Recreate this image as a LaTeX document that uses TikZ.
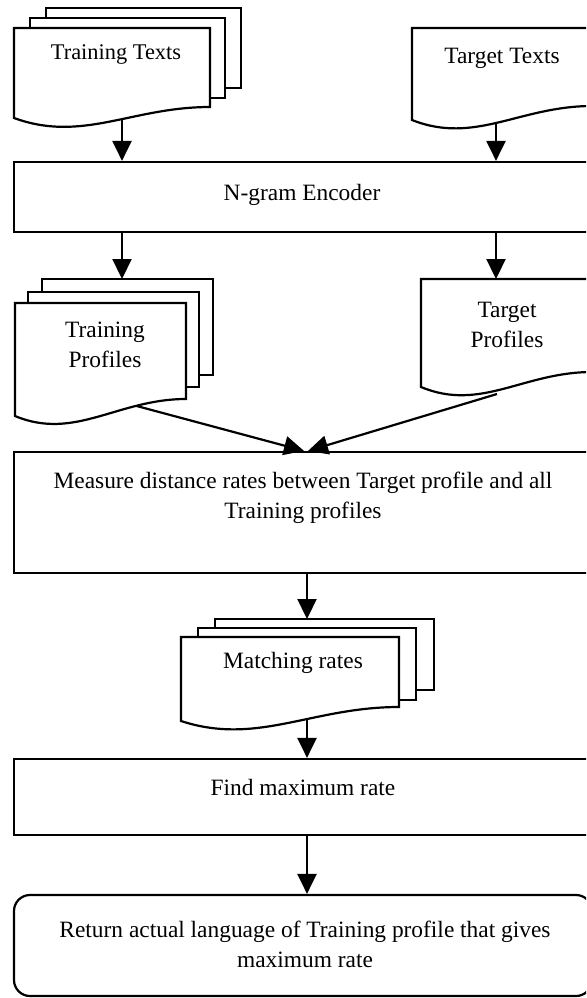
\documentclass[tikz,border=0pt]{standalone}
\usepackage{fontspec}
\setmainfont{Liberation Serif}
\usetikzlibrary{arrows.meta}
\tikzset{
  lw/.style={line width=1.1pt},
  box/.style={draw, lw, rectangle, minimum width=289pt, inner sep=0pt},
  sheet/.style={draw, lw, fill=white, line join=miter},
  lbl/.style={font=\fontsize{11.7pt}{15pt}\selectfont, inner sep=0pt, align=center, anchor=base},
  arr/.style={draw, lw, -{Triangle[width=9.5pt,length=10pt]}},
}
\newcommand\docsheet[5]{\path[sheet] (#1,#2) -- (#3,#2) -- (#3,{#4-#5}) .. controls ({#1+0.6*(#3-#1)},{#4-#5}) and ({#1+0.35*(#3-#1)},{#4+25}) .. (#1,#4) -- cycle;}
\newcommand\backsheet[4]{\path[sheet] (#1,#2) rectangle (#3,#4);}
\begin{document}
\begin{tikzpicture}[x=0.5pt,y=-0.5pt]
\useasboundingbox (0,0) rectangle (586,998);
\clip (0,0) rectangle (586,998);
% process boxes
\node[box, minimum height=35pt] (enc) at (303,197) {};
\node[box, minimum height=60.5pt] (meas) at (303,512.5) {};
\node[box, minimum height=38pt] (find) at (303,797) {};
\node[box, minimum height=50.5pt, rounded corners=8pt] (ret) at (303,945.5) {};
% connection points on the document shapes
\coordinate (tt-out) at (122,112);
\coordinate (tg-out) at (496,115);
\coordinate (tp-in) at (122,279);
\coordinate (tgp-in) at (496,279);
\coordinate (tp-out) at (133,405);
\coordinate (tgp-out) at (497,394);
\coordinate (mr-in) at (307,619);
\coordinate (mr-out) at (307,712);
% connectors
\draw[arr] (tt-out) -- (tt-out |- enc.north);
\draw[arr] (tg-out) -- (tg-out |- enc.north);
\draw[arr] (tp-in |- enc.south) -- (tp-in);
\draw[arr] (tgp-in |- enc.south) -- (tgp-in);
\draw[arr] (tp-out) -- ([xshift=0.5pt]meas.north);
\draw[arr] (tgp-out) -- ([xshift=2.5pt]meas.north);
\draw[arr] (mr-in |- meas.south) -- (mr-in);
\draw[arr] (mr-out) -- (mr-out |- find.north);
\draw[arr] (mr-out |- find.south) -- (mr-out |- ret.north);
% document shapes
\backsheet{46}{8}{241}{88}
\backsheet{30}{18}{225}{98}
\docsheet{14}{28}{210}{118}{11}
\docsheet{412}{28}{592}{120}{14}
\backsheet{42}{279}{213}{375}
\backsheet{28}{292}{199}{387}
\docsheet{15}{303}{186}{416}{17}
\docsheet{421}{279}{592}{387}{15}
\backsheet{215}{619}{434}{690}
\backsheet{198}{628}{416}{700}
\docsheet{181}{637}{399}{721}{14}
% labels (multi-line labels: base = baseline of last line)
\node[lbl, font=\fontsize{11.2pt}{15pt}\selectfont] (tt-l) at (116,59.5) {Training Texts};
\node[lbl] (tg-l) at (502,63.3) {Target Texts};
\node[lbl] (enc-l) at (302,200) {N-gram Encoder};
\node[lbl] (tp-l) at (105,367) {Training\\Profiles};
\node[lbl] (tgp-l) at (507,347) {Target\\Profiles};
\node[lbl] (meas-l) at (303,518) {Measure distance rates between Target profile and all\\Training profiles};
\node[lbl] (mr-l) at (293,668) {Matching rates};
\node[lbl] (find-l) at (303,795) {Find maximum rate};
\node[lbl] (ret-l) at (305,967) {Return actual language of Training profile that gives\\maximum rate};
\end{tikzpicture}
\end{document}
